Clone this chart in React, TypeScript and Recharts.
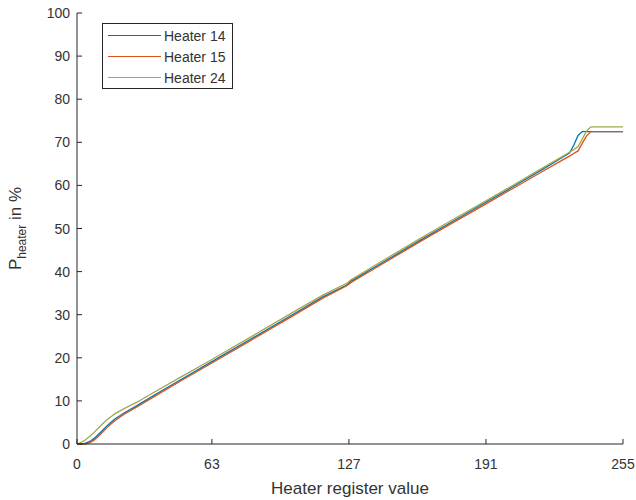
import React from 'react';
import { LineChart, Line, XAxis, YAxis, Legend } from 'recharts';

// register values sampled along the curves
const registerValues = [0, 2, 4, 6, 8, 10, 12, 14, 16, 18, 22, 28, 36, 48, 63, 80, 100, 115, 126, 128, 140, 160, 175, 191, 205, 218, 226, 230, 232, 234, 236, 238, 240, 245, 255];
const heater14 = [0, 0, 0.2, 0.6, 1.3, 2.2, 3.2, 4.2, 5.1, 5.9, 7.2, 8.9, 11.3, 14.8, 19.1, 24.0, 29.8, 34.2, 36.9, 37.8, 41.3, 47.2, 51.5, 56.1, 60.1, 63.9, 66.3, 67.5, 69.3, 71.6, 72.5, 72.5, 72.5, 72.5, 72.5];
const heater15 = [0, 0, 0, 0.3, 0.9, 1.8, 2.8, 3.8, 4.7, 5.5, 6.9, 8.6, 11.0, 14.5, 18.8, 23.7, 29.5, 33.9, 36.7, 37.5, 41.0, 46.9, 51.2, 55.7, 59.7, 63.4, 65.7, 66.8, 67.4, 68.0, 69.8, 71.5, 72.5, 72.5, 72.5];
const heater24 = [0, 0.4, 1.0, 1.8, 2.7, 3.7, 4.7, 5.6, 6.4, 7.1, 8.2, 9.7, 12.0, 15.4, 19.6, 24.5, 30.3, 34.6, 37.3, 38.1, 41.7, 47.6, 51.9, 56.4, 60.4, 64.2, 66.5, 67.7, 68.3, 69.0, 70.8, 72.6, 73.6, 73.6, 73.6];

const xTicks = [0, 63, 127, 191, 255];
const yTicks = [0, 10, 20, 30, 40, 50, 60, 70, 80, 90, 100];

const data = registerValues.map((r, i) => ({
  reg: r,
  h14: heater14[i],
  h15: heater15[i],
  h24: heater24[i],
}));

const FONT = '"Liberation Sans", Arial, Helvetica, sans-serif';
const INK = '#262626';
const TEXT = '#333333';
const TICK_LEN = 5;

const BottomTick = (props: any) => {
  const { x, y, payload } = props;
  return (
    <g>
      <line x1={x} x2={x} y1={y} y2={y - TICK_LEN} stroke={INK} />
      <text x={x} y={y + 25} textAnchor="middle" fontSize={14} fill={TEXT} fontFamily={FONT}>
        {payload.value}
      </text>
    </g>
  );
};

const TopTick = (props: any) => {
  const { x, y } = props;
  return <line x1={x} x2={x} y1={y} y2={y + TICK_LEN} stroke={INK} />;
};

const LeftTick = (props: any) => {
  const { x, y, payload } = props;
  return (
    <g>
      <line x1={x} x2={x + TICK_LEN} y1={y} y2={y} stroke={INK} />
      <text x={x - 7} y={y + 5} textAnchor="end" fontSize={14} fill={TEXT} fontFamily={FONT}>
        {payload.value}
      </text>
    </g>
  );
};

const RightTick = (props: any) => {
  const { x, y } = props;
  return <line x1={x} x2={x - TICK_LEN} y1={y} y2={y} stroke={INK} />;
};

const renderXLabel = (props: any) => {
  const { x, y, width } = props.viewBox;
  return (
    <text x={x + width / 2} y={y + 50} textAnchor="middle" fontSize={17} fill={TEXT} fontFamily={FONT}>
      Heater register value
    </text>
  );
};

const renderYLabel = (props: any) => {
  const { y, height } = props.viewBox;
  const cx = 21;
  const cy = y + height / 2;
  return (
    <text
      x={cx}
      y={cy}
      transform={`rotate(-90, ${cx}, ${cy})`}
      textAnchor="middle"
      fontSize={17}
      fill={TEXT}
      fontFamily={FONT}
    >
      P
      <tspan fontSize={12} dy={5}>heater</tspan>
      <tspan dy={-5}> in %</tspan>
    </text>
  );
};

const renderLegend = (props: any) => {
  const { payload } = props;
  return (
    <div
      style={{
        width: 129,
        height: 63,
        border: `1px solid ${INK}`,
        background: '#fff',
        paddingTop: 1,
        boxSizing: 'content-box',
        fontFamily: FONT,
        fontSize: 14,
        color: TEXT,
      }}
    >
      {payload.map((entry: any) => (
        <div key={entry.value} style={{ height: 21, display: 'flex', alignItems: 'center' }}>
          <div style={{ width: 53, height: 0, borderTop: `1px solid ${entry.color}`, marginLeft: 5, marginRight: 3 }} />
          <span>{entry.value}</span>
        </div>
      ))}
    </div>
  );
};

export default function App() {
  return (
    <div style={{ position: 'absolute', left: 0, top: 0, background: '#fff' }}>
      <LineChart width={636} height={500} data={data} margin={{ top: 13, right: 13, left: 0, bottom: 0 }}>
        <XAxis
          dataKey="reg"
          type="number"
          domain={[0, 255]}
          ticks={xTicks}
          height={56}
          stroke={INK}
          tickLine={false}
          tickSize={0}
          tickMargin={0}
          tick={<BottomTick />}
          label={renderXLabel}
        />
        <XAxis
          xAxisId="top"
          orientation="top"
          dataKey="reg"
          type="number"
          domain={[0, 255]}
          ticks={xTicks}
          height={0}
          stroke={INK}
          tickLine={false}
          tickSize={0}
          tickMargin={0}
          tick={<TopTick />}
        />
        <YAxis
          type="number"
          domain={[0, 100]}
          ticks={yTicks}
          width={77}
          stroke={INK}
          tickLine={false}
          tickSize={0}
          tickMargin={0}
          tick={<LeftTick />}
          label={renderYLabel}
        />
        <YAxis
          yAxisId="right"
          orientation="right"
          type="number"
          domain={[0, 100]}
          ticks={yTicks}
          width={0}
          stroke={INK}
          tickLine={false}
          tickSize={0}
          tickMargin={0}
          tick={<RightTick />}
        />
        <Legend
          layout="vertical"
          align="center"
          verticalAlign="middle"
          content={renderLegend}
          wrapperStyle={{ left: 102, top: 23, width: 'auto' }}
        />
        <Line type="linear" name="Heater 14" dataKey="h14" stroke="#0072BD" strokeWidth={1.3} dot={false} isAnimationActive={false} />
        <Line type="linear" name="Heater 15" dataKey="h15" stroke="#D95319" strokeWidth={1.3} dot={false} isAnimationActive={false} />
        <Line type="linear" name="Heater 24" dataKey="h24" stroke="#A3A845" strokeWidth={1.3} dot={false} isAnimationActive={false} />
      </LineChart>
    </div>
  );
}
